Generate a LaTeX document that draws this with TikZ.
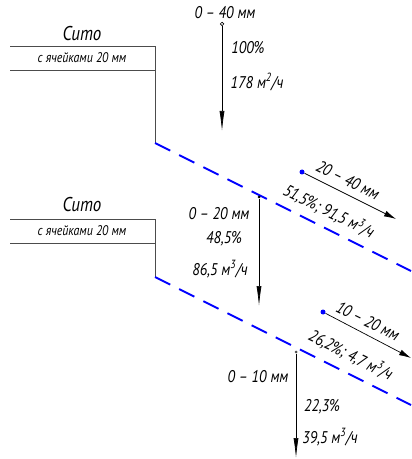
\documentclass[tikz,border=0pt]{standalone}
\usepackage{fontspec}
\setmainfont[FakeStretch=0.85]{PT Sans}
\usetikzlibrary{arrows.meta}
\tikzset{
  sieve/.style={blue,line width=2bp,dash pattern=on 17bp off 10bp},
  frame/.style={draw=black!70,line width=.8bp},
  flow/.style={-{Latex[length=20bp,width=5bp]}},
  side/.style={-{Latex[length=12bp,width=6bp]}},
  lbl/.style={font=\itshape\fontsize{17}{17}\selectfont,inner sep=0pt},
  title/.style={font=\itshape\fontsize{20}{20}\selectfont},
  sub/.style={font=\itshape\fontsize{14}{14}\selectfont},
}
\begin{document}
\begin{tikzpicture}[x=1bp,y=-1bp]
\pgfsetlinewidth{.7bp}
\useasboundingbox (0,0) rectangle (411,459);
% upper sieve
\node[title] (name1) at (82,34) {Сито};
\node[sub] (cell1) at (82,58) {с ячейками 20 мм};
\coordinate (a1) at (10,46); \coordinate (b1) at (155,46);
\coordinate (a2) at (10,70); \coordinate (b2) at (155,70);
\coordinate (k1) at (155,143); \coordinate (e1) at (411,271);
\draw[frame] (a1) -- (b1) -- (k1);
\draw[frame] (a2) -- (b2);
\draw[sieve] (k1) -- (e1);
% lower sieve
\node[title] (name2) at (82,205) {Сито};
\node[sub] (cell2) at (82,231) {с ячейками 20 мм};
\coordinate (a3) at (10,219); \coordinate (b3) at (155,219);
\coordinate (a4) at (10,243); \coordinate (b4) at (155,243);
\coordinate (k2) at (155,277); \coordinate (e2) at (411,405);
\draw[frame] (a3) -- (b3) -- (k2);
\draw[frame] (a4) -- (b4);
\draw[sieve] (k2) -- (e2);
% feed
\node[circle,draw,fill=white,inner sep=0pt,minimum size=3.5bp] (in0) at (222,24) {};
\coordinate (out0) at (222,131);
\draw[flow] (in0) -- (out0);
\node[lbl] (size0) at (225,13) {0 – 40 мм};
\node[lbl] (pct0) at (248,48) {100\%};
\node[lbl] (vol0) at (257,82) {178 м\textsuperscript{2}/ч};
% through upper sieve
\node[circle,fill,inner sep=0pt,minimum size=3bp] (in1) at (259,197) {};
\coordinate (out1) at (259,306);
\draw[flow] (in1) -- (out1);
\node[lbl] (size1) at (219,214) {0 – 20 мм};
\node[lbl] (pct1) at (224,239) {48,5\%};
\node[lbl] (vol1) at (220,269) {86,5 м\textsuperscript{3}/ч};
% over upper sieve
\node[circle,fill=blue,inner sep=0pt,minimum size=5bp] (in2) at (302,172) {};
\coordinate (out2) at (396,219);
\draw[side] (in2) -- (out2);
\node[lbl,rotate=-26.57] (size2) at (348,180) {20 – 40 мм};
\node[lbl,rotate=-26.57] (mix2) at (329,211) {51,5\%; 91,5 м\textsuperscript{3}/ч};
% over lower sieve
\node[circle,fill=blue,inner sep=0pt,minimum size=5bp] (in3) at (323,312) {};
\coordinate (out3) at (411,358);
\draw[side] (in3) -- (out3);
\node[lbl,rotate=-26.57] (size3) at (368,321) {10 – 20 мм};
\node[lbl,rotate=-26.57] (mix3) at (351,355) {26,2\%; 4,7 м\textsuperscript{3}/ч};
% through lower sieve
\node[circle,fill=black!70,inner sep=0pt,minimum size=3bp] (in4) at (296,352) {};
\coordinate (out4) at (296,458);
\draw[flow] (in4) -- (out4);
\node[lbl] (size4) at (258,377) {0 – 10 мм};
\node[lbl] (pct4) at (322,407) {22,3\%};
\node[lbl] (vol4) at (330,437) {39,5 м\textsuperscript{3}/ч};
\end{tikzpicture}
\end{document}
